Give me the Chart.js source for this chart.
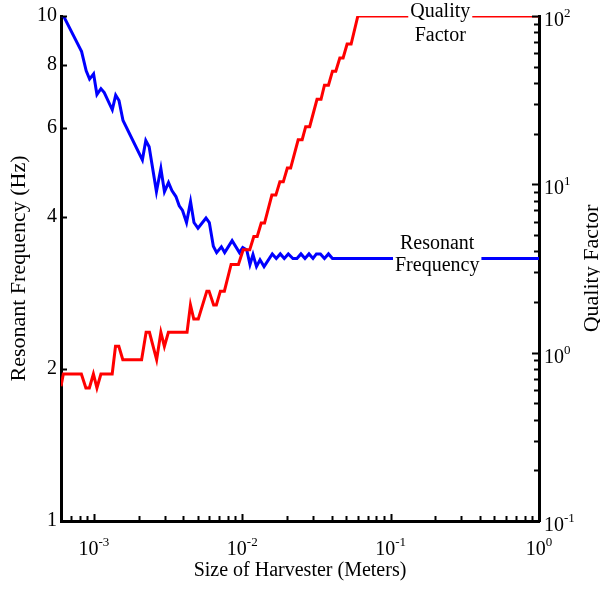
<!DOCTYPE html>
<html>
<head>
<meta charset="utf-8">
<script src="https://cdn.jsdelivr.net/npm/chart.js@4.4.1/dist/chart.umd.min.js"></script>
<style>
  html, body { margin: 0; padding: 0; background: #fff; }
  #wrap { width: 600px; height: 591px; }
</style>
</head>
<body>
<div id="wrap"><canvas id="qfChart" width="600" height="591"></canvas></div>
<script>
// harvester size (m) -> resonant frequency (Hz)
const sizeF = [6.0e-4, 6.27e-4, 8.26e-4, 8.87e-4, 9.35e-4, 9.95e-4, 1.048e-3, 1.115e-3, 1.174e-3, 1.330e-3,
  1.402e-3, 1.476e-3, 1.571e-3, 2.122e-3, 2.237e-3, 2.356e-3, 2.639e-3, 2.827e-3, 2.989e-3, 3.182e-3,
  3.355e-3, 3.570e-3, 3.758e-3, 3.956e-3, 4.210e-3, 4.481e-3, 4.725e-3, 5.029e-3, 5.696e-3, 5.997e-3,
  6.383e-3, 6.719e-3, 7.229e-3, 7.610e-3, 8.541e-3, 9.57e-3, 1.007e-2, 1.072e-2, 1.127e-2, 1.181e-2,
  1.247e-2, 1.317e-2, 1.402e-2, 1.593e-2, 1.695e-2, 1.804e-2, 1.919e-2, 2.043e-2, 2.194e-2, 2.336e-2,
  2.486e-2, 2.646e-2, 2.816e-2, 2.997e-2, 3.160e-2, 3.363e-2, 3.580e-2, 3.810e-2, 4.055e-2, 4.315e-2, 1.0];
const freqHz = [10.0, 9.97, 8.50, 7.79, 7.50, 7.68, 6.99, 7.18, 7.05, 6.52,
  6.97, 6.80, 6.21, 5.19, 5.67, 5.51, 4.49, 4.99, 4.49, 4.68,
  4.51, 4.39, 4.21, 4.12, 3.90, 4.29, 3.90, 3.80, 3.98, 3.90,
  3.50, 3.40, 3.49, 3.40, 3.59, 3.40, 3.48, 3.44, 3.22, 3.37,
  3.19, 3.29, 3.19, 3.38, 3.31, 3.38, 3.31, 3.38, 3.31, 3.31,
  3.38, 3.31, 3.38, 3.31, 3.38, 3.38, 3.31, 3.38, 3.31, 3.31, 3.31];

// harvester size (m) -> quality factor
const sizeQ = [6.0e-4, 6.22e-4, 8.23e-4, 8.83e-4, 9.32e-4, 9.92e-4, 1.048e-3, 1.115e-3, 1.328e-3, 1.398e-3,
  1.472e-3, 1.566e-3, 2.096e-3, 2.248e-3, 2.367e-3, 2.647e-3, 2.827e-3, 2.985e-3, 3.177e-3, 4.243e-3,
  4.475e-3, 4.711e-3, 5.053e-3, 5.768e-3, 5.970e-3, 6.412e-3, 6.689e-3, 7.117e-3, 7.574e-3, 8.407e-3,
  9.42e-3, 1.014e-2, 1.123e-2, 1.196e-2, 1.261e-2, 1.342e-2, 1.413e-2, 1.583e-2, 1.684e-2, 1.792e-2,
  1.890e-2, 2.012e-2, 2.118e-2, 2.381e-2, 2.533e-2, 2.675e-2, 2.847e-2, 3.190e-2, 3.395e-2, 3.580e-2,
  3.810e-2, 4.055e-2, 4.269e-2, 4.544e-2, 4.782e-2, 5.089e-2, 5.417e-2, 6.013e-2, 1.0];
const qualityFactor = [0.631, 0.747, 0.747, 0.617, 0.617, 0.747, 0.617, 0.747, 0.747, 1.09,
  1.09, 0.909, 0.909, 1.32, 1.32, 0.909, 1.32, 1.09, 1.32, 1.32,
  1.92, 1.585, 1.585, 2.32, 2.32, 1.92, 1.92, 2.32, 2.32, 3.34,
  3.34, 4.09, 4.09, 4.90, 4.90, 5.89, 5.89, 8.63, 8.63, 10.35,
  10.35, 12.5, 12.5, 18.4, 18.4, 22.0, 22.0, 32.0, 32.0, 38.8,
  38.8, 47.0, 47.0, 56.3, 56.3, 68.2, 68.2, 100, 100];

const freqTicks = [1, 2, 4, 6, 8, 10];
const sizeDecades = [1e-3, 1e-2, 1e-1, 1];
const qDecades = [0.1, 1, 10, 100];

const serif = '"Liberation Serif", "Times New Roman", Times, serif';

function toPoints(xs, ys) {
    return xs.map(function(x, i) { return { x: x, y: ys[i] }; });
}

// 1..9 x 10^n between min and max, for the little inward ticks
function logTickValues(min, max) {
    const out = [];
    for (let e = Math.floor(Math.log10(min)); e <= Math.ceil(Math.log10(max)); e++) {
        for (let m = 1; m <= 9; m++) {
            const v = m * Math.pow(10, e);
            if (v >= min * 0.9999 && v <= max * 1.0001) out.push({ v: v, major: m === 1 });
        }
    }
    return out;
}

// "10" with a raised exponent
function drawPow(ctx, v, x, baseY, align) {
    const exp = String(Math.round(Math.log10(v)));
    ctx.font = '20px ' + serif;
    const wBase = ctx.measureText('10').width;
    ctx.font = '13px ' + serif;
    const wExp = ctx.measureText(exp).width;
    const start = align === 'center' ? x - (wBase + wExp) / 2 : x;
    ctx.textAlign = 'left';
    ctx.textBaseline = 'alphabetic';
    ctx.font = '20px ' + serif;
    ctx.fillText('10', start, baseY);
    ctx.font = '13px ' + serif;
    ctx.fillText(exp, start + wBase, baseY - 9);
}

const axisDecor = {
    id: 'axisDecor',
    afterDraw(chart) {
        const ctx = chart.ctx;
        const area = chart.chartArea;
        const xs = chart.scales.x, yl = chart.scales.y, yr = chart.scales.y2;
        ctx.save();
        ctx.strokeStyle = '#000';
        ctx.lineWidth = 2;

        // inward ticks, bottom axis
        logTickValues(xs.min, xs.max).forEach(function(t) {
            const px = Math.round(xs.getPixelForValue(t.v)) + 0.5;
            const len = t.major ? 7 : 5;
            ctx.beginPath();
            ctx.moveTo(px, area.bottom);
            ctx.lineTo(px, area.bottom - len);
            ctx.stroke();
        });
        // left axis ticks only at labelled values
        freqTicks.forEach(function(v) {
            const py = Math.round(yl.getPixelForValue(v)) + 0.5;
            ctx.beginPath();
            ctx.moveTo(area.left, py);
            ctx.lineTo(area.left + 6, py);
            ctx.stroke();
        });
        // right axis
        logTickValues(yr.min, yr.max).forEach(function(t) {
            const py = Math.round(yr.getPixelForValue(t.v)) + 0.5;
            const len = t.major ? 7 : 5;
            ctx.beginPath();
            ctx.moveTo(area.right, py);
            ctx.lineTo(area.right - len, py);
            ctx.stroke();
        });

        ctx.fillStyle = '#000';
        sizeDecades.forEach(function(v) {
            drawPow(ctx, v, xs.getPixelForValue(v), 555, 'center');
        });
        qDecades.forEach(function(v) {
            drawPow(ctx, v, area.right + 5, yr.getPixelForValue(v) + 10, 'left');
        });

        // right axis title reads bottom to top
        ctx.translate(592, (area.top + area.bottom) / 2);
        ctx.rotate(-Math.PI / 2);
        ctx.font = '22px ' + serif;
        ctx.textAlign = 'center';
        ctx.textBaseline = 'middle';
        ctx.fillText('Quality Factor', 0, 0);
        ctx.restore();
    }
};

// curve names sitting on the lines with a white patch behind them
const curveLabels = {
    id: 'curveLabels',
    afterDatasetsDraw(chart, args, opts) {
        const ctx = chart.ctx;
        ctx.save();
        opts.items.forEach(function(it) {
            const cx = chart.scales.x.getPixelForValue(it.x);
            const cy = chart.scales[it.axis].getPixelForValue(it.y);
            ctx.font = '20px ' + serif;
            const w = Math.max.apply(null, it.lines.map(function(s) { return ctx.measureText(s).width; })) + 4;
            ctx.fillStyle = '#fff';
            ctx.fillRect(cx - w / 2, cy + it.boxTop, w, it.boxHeight);
            ctx.fillStyle = '#000';
            ctx.textAlign = 'center';
            ctx.textBaseline = 'alphabetic';
            it.lines.forEach(function(s, i) { ctx.fillText(s, cx, cy + it.baselines[i]); });
        });
        ctx.restore();
    }
};

new Chart(document.getElementById('qfChart'), {
    type: 'line',
    data: {
        datasets: [{
            label: 'Resonant Frequency',
            data: toPoints(sizeF, freqHz),
            yAxisID: 'y',
            borderColor: '#0000ff',
            borderWidth: 3,
            pointRadius: 0,
            tension: 0,
            fill: false,
            order: 1
        }, {
            label: 'Quality Factor',
            data: toPoints(sizeQ, qualityFactor),
            yAxisID: 'y2',
            borderColor: '#ff0000',
            borderWidth: 3,
            pointRadius: 0,
            tension: 0,
            fill: false,
            order: 0
        }]
    },
    options: {
        responsive: false,
        animation: false,
        devicePixelRatio: 1,
        layout: { padding: { top: 16, left: 0, right: 0, bottom: 0 } },
        plugins: {
            legend: { display: false },
            tooltip: { enabled: false },
            curveLabels: {
                items: [
                    { lines: ['Quality', 'Factor'], x: 0.216, y: 100, axis: 'y2',
                      baselines: [1, 25], boxTop: -15, boxHeight: 45 },
                    { lines: ['Resonant', 'Frequency'], x: 0.206, y: 3.31, axis: 'y',
                      baselines: [-9, 13], boxTop: -26, boxHeight: 44 }
                ]
            }
        },
        scales: {
            x: {
                type: 'logarithmic',
                position: 'bottom',
                min: 6e-4,
                max: 1,
                grid: { display: false, drawTicks: false },
                border: { display: true, color: '#000', width: 3 },
                ticks: { display: false },
                title: {
                    display: true,
                    text: 'Size of Harvester (Meters)',
                    color: '#000',
                    font: { family: serif, size: 20 },
                    padding: { top: 0, bottom: 8 }
                },
                afterFit: function(s) { s.height = 70; }
            },
            y: {
                type: 'logarithmic',
                position: 'left',
                min: 1,
                max: 10,
                grid: { display: false, drawTicks: false },
                border: { display: true, color: '#000', width: 3 },
                afterBuildTicks: function(s) {
                    s.ticks = freqTicks.map(function(v) { return { value: v }; });
                },
                ticks: {
                    color: '#000',
                    font: { family: serif, size: 20 },
                    padding: 4,
                    autoSkip: false,
                    callback: function(v) { return String(v); }
                },
                title: {
                    display: true,
                    text: 'Resonant Frequency (Hz)',
                    color: '#000',
                    font: { family: serif, size: 22 },
                    padding: { top: 6, bottom: 0 }
                },
                afterFit: function(s) { s.width = 61; }
            },
            y2: {
                type: 'logarithmic',
                position: 'right',
                min: 0.1,
                max: 100,
                grid: { display: false, drawTicks: false },
                border: { display: true, color: '#000', width: 3 },
                ticks: { display: false },
                afterFit: function(s) { s.width = 61; }
            }
        }
    },
    plugins: [curveLabels, axisDecor]
});
</script>
</body>
</html>
